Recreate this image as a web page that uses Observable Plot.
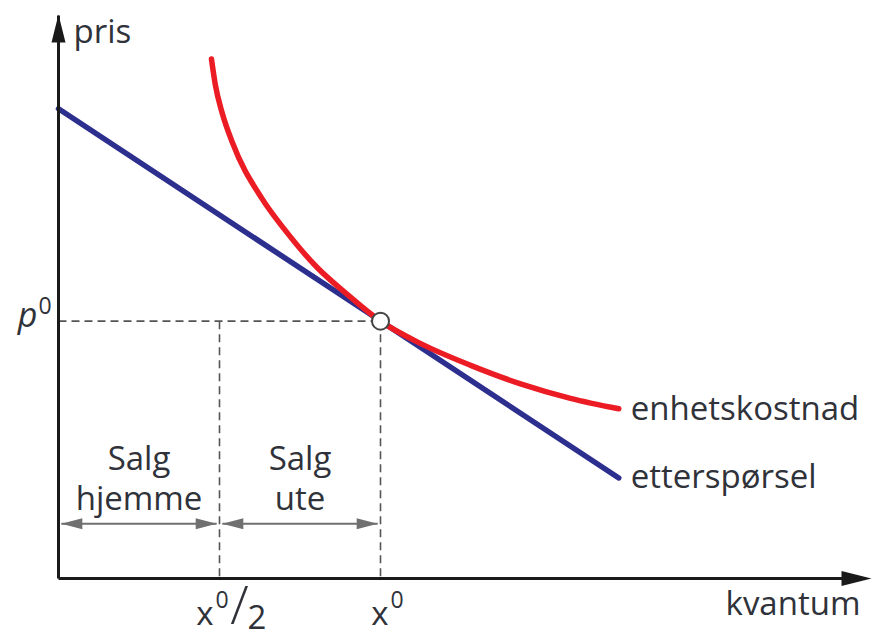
<!DOCTYPE html>
<html>
<head>
<meta charset="utf-8">
<script src="https://cdn.jsdelivr.net/npm/d3@7"></script>
<script src="https://cdn.jsdelivr.net/npm/@observablehq/plot@0.6"></script>
<style>
  html, body { margin: 0; padding: 0; background: #fff; }
  svg { display: block; }
</style>
</head>
<body>
<div id="chart"></div>
<script>
// ---- data (abstract quantity / price units) ----
const qtyX0 = 4;          // x⁰
const qtyHalf = 2;        // x⁰/2
const priceP0 = 3.2;      // p⁰
const axisMaxX = 10;
const axisMaxY = 7;

// demand (etterspørsel), straight line
const demandQ = [0, 6.96];
const demandP = [5.84, 1.25];

// unit cost (enhetskostnad) curve
const costQ = [1.90, 1.95, 2.03, 2.16, 2.53, 2.80, 3.21, 3.59, 4.00, 4.50, 5.12, 5.74, 6.36, 6.96];
const costP = [6.46, 6.13, 5.80, 5.42, 4.72, 4.35, 3.87, 3.53, 3.20, 2.92, 2.65, 2.42, 2.24, 2.11];

// sales spans
const spanStart = [0, qtyHalf];
const spanEnd = [qtyHalf, qtyX0];
const spanLabels = ["Salg\nhjemme", "Salg\nute"];
const spanY = 0.68;

// text labels
const yLabel = "pris";
const xLabel = "kvantum";
const costLabel = "enhetskostnad";
const demandLabel = "etterspørsel";

// ---- build tables ----
const demand = demandQ.map((q, i) => ({q, p: demandP[i]}));
const cost = costQ.map((q, i) => ({q, p: costP[i]}));
const spans = spanStart.map((s, i) => ({x1: s, x2: spanEnd[i], label: spanLabels[i], mid: (s + spanEnd[i]) / 2}));

// custom arrowhead symbols
const headUp = {draw(c) { c.moveTo(0, -1); c.lineTo(7, 27); c.lineTo(-7, 27); c.closePath(); }};
const headRight = {draw(c) { c.moveTo(8, 0); c.lineTo(-22, 7.5); c.lineTo(-22, -7.5); c.closePath(); }};
const grayLeft = {draw(c) { c.moveTo(0, 0); c.lineTo(21, -5.5); c.lineTo(21, 5.5); c.closePath(); }};
const grayRight = {draw(c) { c.moveTo(0, 0); c.lineTo(-21, -5.5); c.lineTo(-21, 5.5); c.closePath(); }};

const ink = "#30323a";
const font = "Open Sans";
const fs = 33;
const gap = 0.035;

const chart = Plot.plot({
  width: 874,
  height: 637,
  marginLeft: 58,
  marginRight: 11,
  marginTop: 15,
  marginBottom: 59,
  x: {domain: [0, axisMaxX], axis: null},
  y: {domain: [0, axisMaxY], axis: null},
  style: {fontFamily: font, background: "#fff"},
  marks: [
    // dashed guides
    Plot.link([{}], {x1: 0, x2: qtyX0, y1: priceP0, y2: priceP0, stroke: "#555", strokeWidth: 1.6, strokeDasharray: "8,5"}),
    Plot.link([{}], {x1: qtyHalf, x2: qtyHalf, y1: priceP0, y2: 0, stroke: "#555", strokeWidth: 1.6, strokeDasharray: "8,5"}),
    Plot.link([{}], {x1: qtyX0, x2: qtyX0, y1: priceP0, y2: 0, stroke: "#555", strokeWidth: 1.6, strokeDasharray: "8,5"}),

    // sales span arrows
    Plot.link(spans, {x1: d => d.x1 + gap, x2: d => d.x2 - gap, y1: spanY, y2: spanY, stroke: "#707070", strokeWidth: 2}),
    Plot.dot(spans, {x: d => d.x1 + gap, y: spanY, symbol: grayLeft, fill: "#707070", r: 5}),
    Plot.dot(spans, {x: d => d.x2 - gap, y: spanY, symbol: grayRight, fill: "#707070", r: 5}),
    Plot.text(spans, {x: "mid", y: spanY, text: "label", dy: -47, fontSize: fs, lineHeight: 1.21, fill: ink, textAnchor: "middle"}),

    // demand & cost
    Plot.line(demand, {x: "q", y: "p", stroke: "#2d2f8e", strokeWidth: 5.5}),
    Plot.line(cost, {x: "q", y: "p", stroke: "#ec1c24", strokeWidth: 5.5, curve: "monotone-x"}),

    // axes
    Plot.link([{}], {x1: 0, x2: 0, y1: 0, y2: axisMaxY, stroke: "#1a1a1a", strokeWidth: 3}),
    Plot.link([{}], {x1: 0, x2: axisMaxX, y1: 0, y2: 0, stroke: "#1a1a1a", strokeWidth: 3}),
    Plot.dot([{}], {x: 0, y: axisMaxY, symbol: headUp, fill: "#1a1a1a", r: 5}),
    Plot.dot([{}], {x: axisMaxX, y: 0, symbol: headRight, fill: "#1a1a1a", r: 5}),

    // equilibrium point
    Plot.dot([{}], {x: qtyX0, y: priceP0, r: 8.5, fill: "#fff", stroke: "#444", strokeWidth: 2}),

    // axis labels
    Plot.text([yLabel], {x: 0, y: axisMaxY, text: d => d, dx: 15, dy: 17, fontSize: fs, fill: ink, textAnchor: "start"}),
    Plot.text([xLabel], {x: axisMaxX, y: 0, text: d => d, dx: -3, dy: 26, fontSize: fs, fill: ink, textAnchor: "end"}),

    // curve labels
    Plot.text([costLabel], {x: costQ[costQ.length - 1], y: costP[costP.length - 1], text: d => d, dx: 12, dy: 1, fontSize: fs, fill: ink, textAnchor: "start"}),
    Plot.text([demandLabel], {x: demandQ[demandQ.length - 1], y: demandP[demandP.length - 1], text: d => d, dx: 12, dy: -1, fontSize: fs, fill: ink, textAnchor: "start"}),

    // p⁰
    Plot.text(["p"], {x: 0, y: priceP0, text: d => d, dx: -21, dy: -5, fontSize: 34, fontStyle: "italic", fill: ink, textAnchor: "end"}),
    Plot.text(["0"], {x: 0, y: priceP0, text: d => d, dx: -20, dy: -15, fontSize: 23, fill: ink, textAnchor: "start"}),

    // x⁰/2
    Plot.text(["x"], {x: qtyHalf, y: 0, text: d => d, dx: -6, dy: 36, fontSize: fs, fill: ink, textAnchor: "end"}),
    Plot.text(["0"], {x: qtyHalf, y: 0, text: d => d, dx: -4, dy: 22, fontSize: 23, fill: ink, textAnchor: "start"}),
    Plot.text(["/"], {x: qtyHalf, y: 0, text: d => d, dx: 20, dy: 28, fontSize: 54, fontWeight: 300, fill: ink, textAnchor: "middle"}),
    Plot.text(["2"], {x: qtyHalf, y: 0, text: d => d, dx: 28, dy: 40, fontSize: fs, fill: ink, textAnchor: "start"}),

    // x⁰
    Plot.text(["x"], {x: qtyX0, y: 0, text: d => d, dx: 8, dy: 36, fontSize: fs, fill: ink, textAnchor: "end"}),
    Plot.text(["0"], {x: qtyX0, y: 0, text: d => d, dx: 10, dy: 22, fontSize: 23, fill: ink, textAnchor: "start"})
  ]
});
document.getElementById("chart").appendChild(chart);
</script>
</body>
</html>
